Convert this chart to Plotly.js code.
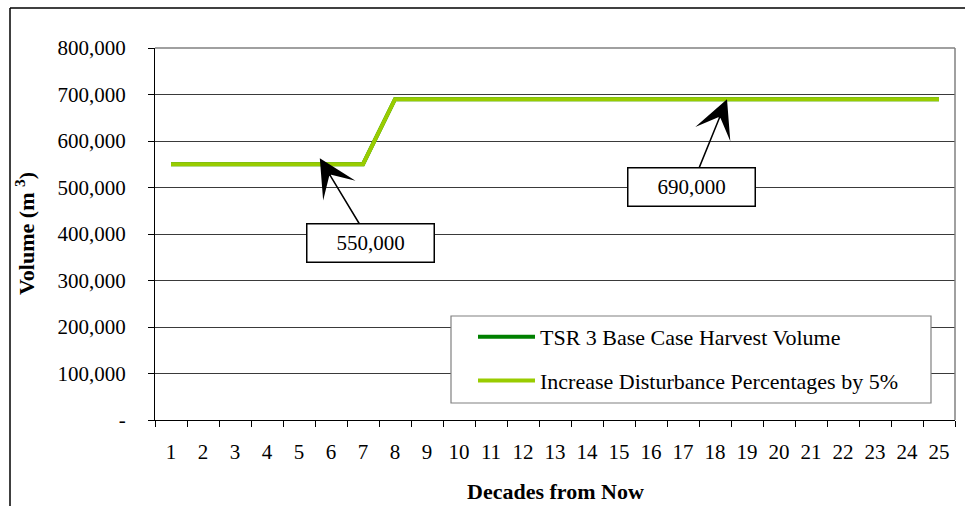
<!DOCTYPE html>
<html>
<head>
<meta charset="utf-8">
<script src="https://cdn.plot.ly/plotly-3.0.1.min.js"></script>
<style>html,body{margin:0;padding:0;background:#fff;overflow:hidden;}#chart{width:965px;height:506px;}</style>
</head>
<body>
<div id="chart"></div>
<script>
// ---- data ----
const decades = ["1","2","3","4","5","6","7","8","9","10","11","12","13","14","15","16","17","18","19","20","21","22","23","24","25"];
const baseCase = [550000,550000,550000,550000,550000,550000,550000,690000,690000,690000,690000,690000,690000,690000,690000,690000,690000,690000,690000,690000,690000,690000,690000,690000,690000];
const increaseDist = [550000,550000,550000,550000,550000,550000,550000,690000,690000,690000,690000,690000,690000,690000,690000,690000,690000,690000,690000,690000,690000,690000,690000,690000,690000];
const seriesNames = ["TSR 3 Base Case Harvest Volume", "Increase Disturbance Percentages by 5%"];
const yTickVals = [0,100000,200000,300000,400000,500000,600000,700000,800000];
const yTickText = ["-","100,000","200,000","300,000","400,000","500,000","600,000","700,000","800,000"];
const calloutValues = [550000, 690000];
const calloutLabels = ["550,000", "690,000"];
const calloutDecadeIdx = [4.65, 17.375];

const FONT = "Liberation Serif, Times New Roman, serif";

const traces = [
  {x: decades, y: baseCase, name: seriesNames[0], type: "scatter", mode: "lines",
   line: {color: "#008000", width: 4}, legendgroup: "a"},
  {x: decades, y: increaseDist, name: seriesNames[1], type: "scatter", mode: "lines",
   line: {color: "#99CC00", width: 4}, legendgroup: "b"}
];

const layout = {
  width: 965, height: 506,
  margin: {l: 155, r: 10, t: 48, b: 86},
  paper_bgcolor: "#fff", plot_bgcolor: "#fff",
  font: {family: FONT, size: 21, color: "#000"},
  showlegend: true,
  legend: {
    x: 0.3975, y: 0.2796, xanchor: "left", yanchor: "top",
    borderwidth: 0, bgcolor: "rgba(0,0,0,0)",
    font: {family: FONT, size: 22, color: "#000"},
    tracegroupgap: 12, itemwidth: 57
  },
  xaxis: {
    type: "category", tickson: "boundaries", range: [-0.5, 24.5],
    ticks: "outside", ticklen: 6, tickcolor: "#000", tickwidth: 1,
    showline: true, linecolor: "#000", linewidth: 1,
    showgrid: false, zeroline: false,
    tickfont: {family: FONT, size: 21},
    ticklabelstandoff: 13,
    fixedrange: true
  },
  yaxis: {
    range: [0, 800000],
    tickvals: yTickVals, ticktext: yTickText,
    ticks: "outside", ticklen: 6, tickcolor: "#000", tickwidth: 1,
    showline: true, linecolor: "#000", linewidth: 1,
    showgrid: true, gridcolor: "#3a3a3a", gridwidth: 1,
    zeroline: false,
    tickfont: {family: FONT, size: 21},
    ticklabelstandoff: 18,
    fixedrange: true
  },
  shapes: [
    {type: "line", xref: "paper", yref: "paper", x0: 0, x1: 1, y0: 1, y1: 1, line: {color: "#808080", width: 1.5}},
    {type: "line", xref: "paper", yref: "paper", x0: 1, x1: 1, y0: 0, y1: 1, line: {color: "#808080", width: 1.5}},
    {type: "line", xref: "paper", yref: "paper", x0: -0.18125, x1: 1.0125, y0: 1.1075, y1: 1.1075, line: {color: "#000", width: 1.5}},
    {type: "line", xref: "paper", yref: "paper", x0: -0.18125, x1: -0.18125, y0: -0.232, y1: 1.1075, line: {color: "#000", width: 1.5}},
    {type: "rect", xref: "paper", yref: "paper", layer: "above", x0: 0.37, x1: 0.97, y0: 0.0457, y1: 0.2796,
     fillcolor: "#fff", line: {color: "#808080", width: 1.2}}
  ],
  annotations: [
    {xref: "paper", yref: "paper", x: 0.5, y: -0.191, xanchor: "center", yanchor: "middle",
     text: "<b>Decades from Now</b>", showarrow: false, font: {family: FONT, size: 22}},
    {xref: "paper", yref: "paper", x: -0.1625, y: 0.5, xanchor: "center", yanchor: "middle",
     text: "<b>Volume (m <sup>3</sup>)</b>", textangle: -90, showarrow: false, font: {family: FONT, size: 22}},
    {xref: "x", yref: "y", x: calloutDecadeIdx[0], y: calloutValues[0], yshift: 6,
     text: calloutLabels[0], showarrow: true, ax: 51, ay: 84.5,
     arrowhead: 3, arrowsize: 4.2, arrowwidth: 1.5, arrowcolor: "#000",
     bgcolor: "#fff", bordercolor: "#000", borderwidth: 1.5, borderpad: 2,
     width: 122, height: 33, font: {family: FONT, size: 21}},
    {xref: "x", yref: "y", x: calloutDecadeIdx[1], y: calloutValues[1],
     text: calloutLabels[1], showarrow: true, ax: -35.5, ay: 87.5,
     arrowhead: 3, arrowsize: 4.2, arrowwidth: 1.5, arrowcolor: "#000",
     bgcolor: "#fff", bordercolor: "#000", borderwidth: 1.5, borderpad: 2,
     width: 122, height: 33, font: {family: FONT, size: 21}}
  ]
};

Plotly.newPlot("chart", traces, layout, {displayModeBar: false, staticPlot: true});
</script>
</body>
</html>
